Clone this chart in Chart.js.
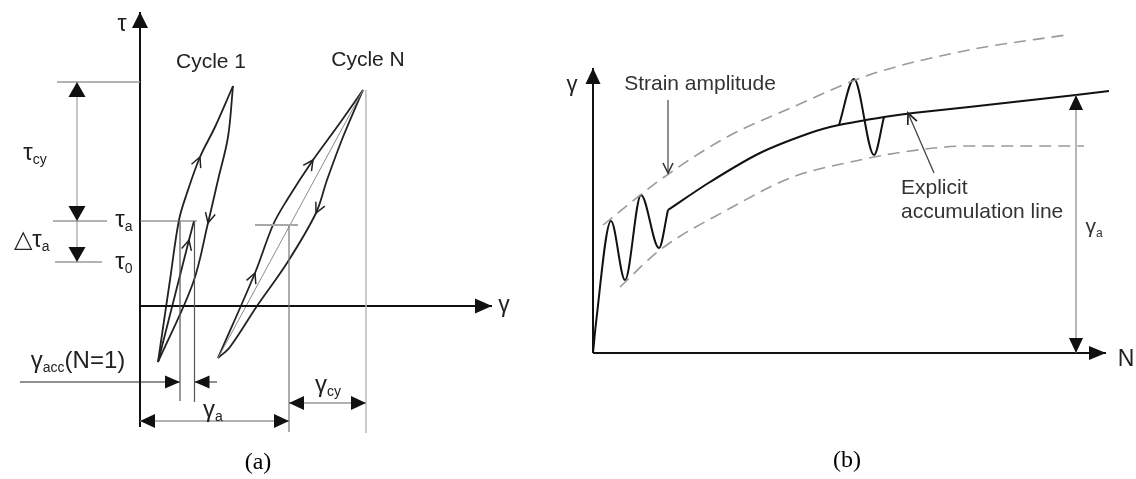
<!DOCTYPE html>
<html>
<head>
<meta charset="utf-8">
<script src="https://cdn.jsdelivr.net/npm/chart.js@4"></script>
<style>
  body { margin: 0; background: #fff; }
  #wrap { position: relative; width: 1136px; height: 479px; }
  canvas { position: absolute; top: 0; }
  #panelA { left: 0; }
  #panelB { left: 560px; }
</style>
</head>
<body>
<div id="wrap">
  <canvas id="panelA" width="560" height="479"></canvas>
  <canvas id="panelB" width="576" height="479"></canvas>
</div>
<script>
// ---------- panel (a): gamma (x) vs tau (y), arbitrary units ----------
const cycle1Load   = [[1.8,-5.6],[3.0,2.6],[3.9,8.6],[4.7,11.3],[6.0,14.9],[7.5,17.9],[9.3,22.0]];
const cycle1Unload = [[9.3,22.0],[8.8,16.9],[7.8,12.6],[6.8,8.3],[5.3,2.3],[1.8,-5.6]];
const cycle1Reload = [[1.8,-5.6],[4.9,6.6],[5.4,8.5]];
const cycleNLoad   = [[7.8,-5.2],[11.5,3.3],[13.3,8.1],[14.7,10.6],[17.3,14.6],[19.7,17.9],[22.3,21.6]];
const cycleNUnload = [[22.3,21.6],[20.3,16.9],[18.7,12.6],[17.6,9.3],[14.7,4.3],[11.7,0],[9.0,-4.1],[7.8,-5.2]];
const cycleNChord  = [[7.8,-5.2],[22.3,21.6]];

const tauLevels = { cy: 22.4, a: 8.5, zero: 4.4 };
const gammaMarks = { acc1: 4.0, acc2: 5.45, a: 14.9, peakN: 22.6 };

const labelsA = ["τ", "Cycle 1", "Cycle N", "τ{cy}", "τ{a}", "△τ{a}", "τ{0}", "γ", "γ{acc}(N=1)", "γ{a}", "γ{cy}", "(a)"];

// ---------- panel (b): N (x) vs gamma (y) ----------
const earlyCycles  = [[0,0],[0.3,3.0],[1.8,13.2],[3.2,7.3],[4.8,15.8],[6.6,10.5],[7.5,14.3]];
const accumLine    = [[7.5,14.3],[11.7,17.1],[16.7,20.0],[21.7,22.0],[24.6,22.8],[29.1,23.6],[32.0,24.0],[37.6,24.6],[48.3,25.8],[51.6,26.2]];
const laterCycle   = [[24.6,22.8],[26.1,27.4],[28.1,19.8],[29.1,23.6]];
const upperAmp     = [[1.0,12.8],[6.7,17.3],[13.4,21.6],[20.0,24.6],[27.6,27.8],[37.6,30.3],[47.3,31.8]];
const lowerAmp     = [[2.7,6.6],[6.7,10.3],[13.4,14.3],[20.0,17.6],[26.7,19.3],[31.0,20.1],[37.6,20.7],[49.1,20.7]];
const gammaAEnd    = 48.3;

const labelsB = ["γ", "Strain amplitude", "Explicit", "accumulation line", "γ{a}", "N", "(b)"];

const SANS = "'Liberation Sans', Arial, sans-serif";
const SERIF = "'Liberation Serif', 'Times New Roman', serif";

function line(pts, color, width, extra) {
  return Object.assign({
    data: pts.map(p => ({ x: p[0], y: p[1] })),
    showLine: true, borderColor: color, backgroundColor: color,
    borderWidth: width, pointRadius: 0, pointHoverRadius: 0, tension: 0, fill: false
  }, extra || {});
}

function drawHead(ctx, tip, from, len, half, filled) {
  const a = Math.atan2(tip.y - from.y, tip.x - from.x);
  ctx.save();
  ctx.translate(tip.x, tip.y);
  ctx.rotate(a);
  ctx.beginPath();
  if (filled) {
    ctx.moveTo(0, 0); ctx.lineTo(-len, -half); ctx.lineTo(-len, half); ctx.closePath(); ctx.fill();
  } else {
    ctx.moveTo(-len, -half); ctx.lineTo(0, 0); ctx.lineTo(-len, half); ctx.stroke();
  }
  ctx.restore();
}

// arrow heads at dataset ends and along curves
const arrowPlugin = {
  id: 'arrows',
  afterDatasetsDraw(chart) {
    const ctx = chart.ctx;
    chart.data.datasets.forEach((ds, i) => {
      const h = ds.head;
      if (!h) return;
      const pts = chart.getDatasetMeta(i).data;
      const n = pts.length;
      ctx.save();
      ctx.fillStyle = h.color || '#111';
      ctx.strokeStyle = h.color || '#111';
      ctx.lineWidth = h.lw || 1.5;
      if (h.end) drawHead(ctx, pts[n - 1], pts[n - 2], h.len, h.half, h.fill);
      if (h.start) drawHead(ctx, pts[0], pts[1], h.len, h.half, h.fill);
      (h.mid || []).forEach(j => {
        const back = pts[j - 1], fwd = pts[j + 1];
        const tip = pts[j];
        drawHead(ctx, tip, { x: tip.x - (fwd.x - back.x), y: tip.y - (fwd.y - back.y) }, h.len, h.half, h.fill);
      });
      ctx.restore();
    });
  }
};

// text with {subscript} parts, anchored in data units
function drawRich(ctx, str, x, y, size, align, family, color) {
  const parts = str.split(/\{([^}]*)\}/);
  const subSize = Math.round(size * 0.58);
  let w = 0;
  parts.forEach((p, k) => {
    ctx.font = (k % 2 ? subSize : size) + 'px ' + family;
    w += ctx.measureText(p).width;
  });
  let cx = align === 'left' ? x : align === 'right' ? x - w : x - w / 2;
  ctx.fillStyle = color;
  ctx.textBaseline = 'middle';
  ctx.textAlign = 'left';
  parts.forEach((p, k) => {
    ctx.font = (k % 2 ? subSize : size) + 'px ' + family;
    ctx.fillText(p, cx, k % 2 ? y + size * 0.3 : y);
    cx += ctx.measureText(p).width;
  });
}

const textPlugin = {
  id: 'texts',
  afterDraw(chart, args, opts) {
    const ctx = chart.ctx;
    const sx = chart.scales.x, sy = chart.scales.y;
    ctx.save();
    (opts.items || []).forEach(it => {
      drawRich(ctx, it.t, sx.getPixelForValue(it.x), sy.getPixelForValue(it.y),
        it.size || 21, it.align || 'center', it.family || SANS, it.color || '#222');
    });
    ctx.restore();
  }
};

function baseOptions(xr, yr, items) {
  return {
    animation: false, responsive: false, events: [],
    layout: { padding: 0 },
    plugins: { legend: { display: false }, tooltip: { enabled: false }, texts: { items: items } },
    scales: {
      x: { type: 'linear', min: xr[0], max: xr[1], display: false },
      y: { type: 'linear', min: yr[0], max: yr[1], display: false }
    }
  };
}

// ---------------- panel (a) ----------------
const T = tauLevels, G = gammaMarks;
const dimHead = { end: true, start: true, fill: true, len: 15, half: 7, color: '#111' };
const chevron = { fill: false, len: 10, half: 5, lw: 1.5, color: '#222' };

const dsA = [
  // reference lines
  line([[-8.3, T.cy], [0, T.cy]], '#9a9a9a', 1.5),
  line([[-8.7, T.a], [-3.3, T.a]], '#9a9a9a', 1.5),
  line([[-8.5, T.zero], [-3.8, T.zero]], '#9a9a9a', 1.5),
  line([[0, T.a], [5.7, T.a]], '#666', 1.2),
  line([[11.5, 8.1], [15.8, 8.1]], '#a8a8a8', 2),
  line([[G.acc1, T.a], [G.acc1, -9.5]], '#555', 1.2),
  line([[G.acc2, T.a], [G.acc2, -9.6]], '#555', 1.2),
  line([[G.a, 8.1], [G.a, -12.6]], '#777', 1.2),
  line([[G.peakN, 21.6], [G.peakN, -12.7]], '#bbb', 1.5),
  // dimension arrows
  line([[-6.3, T.cy], [-6.3, T.a]], '#aaa', 1.3, { head: Object.assign({}, dimHead, { half: 8.5 }) }),
  line([[-6.3, T.a], [-6.3, T.zero]], '#aaa', 1.3, { head: { end: true, fill: true, len: 15, half: 8.5, color: '#111' } }),
  line([[-12.0, -7.6], [G.acc1, -7.6]], '#222', 1, { head: { end: true, fill: true, len: 15, half: 6.5, color: '#111' } }),
  line([[7.7, -7.6], [G.acc2, -7.6]], '#222', 1, { head: { end: true, fill: true, len: 15, half: 6.5, color: '#111' } }),
  line([[0, -11.5], [G.a, -11.5]], '#999', 1.3, { head: dimHead }),
  line([[G.a, -9.7], [G.peakN, -9.7]], '#999', 1.3, { head: dimHead }),
  // axes
  line([[0, -12.1], [0, 29.4]], '#111', 2, { head: { end: true, fill: true, len: 16, half: 8, color: '#111' } }),
  line([[0, 0], [35.2, 0]], '#111', 2, { head: { end: true, fill: true, len: 17, half: 7.5, color: '#111' } }),
  // hysteresis loops
  line(cycleNChord, '#8a8a8a', 1),
  line(cycle1Load, '#222', 1.8, { tension: 0.35, head: Object.assign({ mid: [4] }, chevron) }),
  line(cycle1Unload, '#222', 1.8, { tension: 0.35, head: Object.assign({ mid: [3] }, chevron) }),
  line(cycle1Reload, '#222', 1.8, { head: Object.assign({ mid: [1] }, chevron) }),
  line(cycleNLoad, '#222', 1.8, { tension: 0.35, head: Object.assign({ mid: [1, 4] }, chevron) }),
  line(cycleNUnload, '#222', 1.8, { tension: 0.35, head: Object.assign({ mid: [3] }, chevron) })
];

const textA = [
  { t: labelsA[0], x: -1.8, y: 28.1, size: 23 },
  { t: labelsA[1], x: 7.1, y: 24.4, size: 21 },
  { t: labelsA[2], x: 22.8, y: 24.6, size: 21 },
  { t: labelsA[3], x: -10.5, y: 15.3, size: 24 },
  { t: labelsA[4], x: -1.6, y: 8.6, size: 24 },
  { t: labelsA[5], x: -10.8, y: 6.6, size: 24 },
  { t: labelsA[6], x: -1.6, y: 4.4, size: 24 },
  { t: labelsA[7], x: 36.4, y: 0, size: 23 },
  { t: labelsA[8], x: -6.2, y: -5.5, size: 24 },
  { t: labelsA[9], x: 7.3, y: -10.4, size: 24 },
  { t: labelsA[10], x: 18.8, y: -7.9, size: 24 },
  { t: labelsA[11], x: 11.8, y: -15.7, size: 24, family: SERIF, color: '#000' }
];

new Chart(document.getElementById('panelA'), {
  type: 'scatter',
  data: { datasets: dsA },
  options: baseOptions([-14, 42], [-17.3, 30.6], textA),
  plugins: [arrowPlugin, textPlugin]
});

// ---------------- panel (b) ----------------
const dsB = [
  line(upperAmp, '#9a9a9a', 1.6, { borderDash: [12, 7], cubicInterpolationMode: 'monotone' }),
  line(lowerAmp, '#9a9a9a', 1.6, { borderDash: [12, 7], cubicInterpolationMode: 'monotone' }),
  line([[gammaAEnd, 25.8], [gammaAEnd, 0]], '#888', 1.2, { head: { end: true, start: true, fill: true, len: 15, half: 7, color: '#111' } }),
  line([[0, 0], [0, 28.5]], '#111', 2, { head: { end: true, fill: true, len: 16, half: 7.5, color: '#111' } }),
  line([[0, 0], [51.3, 0]], '#111', 2, { head: { end: true, fill: true, len: 17, half: 7, color: '#111' } }),
  line(earlyCycles, '#111', 2, { cubicInterpolationMode: 'monotone' }),
  line(accumLine, '#111', 2, { tension: 0.3 }),
  line(laterCycle, '#111', 2, { cubicInterpolationMode: 'monotone' }),
  line([[7.5, 25.3], [7.5, 18.0]], '#555', 1.3, { head: { end: true, fill: false, len: 10, half: 5, lw: 1.6, color: '#333' } }),
  line([[34.1, 18.0], [31.5, 24.0]], '#444', 1.3, { head: { end: true, fill: false, len: 11, half: 5, lw: 1.7, color: '#222' } })
];

const textB = [
  { t: labelsB[0], x: -2.1, y: 26.8, size: 22 },
  { t: labelsB[1], x: 10.7, y: 26.9, size: 21, color: '#333' },
  { t: labelsB[2], x: 30.8, y: 16.5, size: 21, align: 'left', color: '#333' },
  { t: labelsB[3], x: 30.8, y: 14.1, size: 21, align: 'left', color: '#333' },
  { t: labelsB[4], x: 50.1, y: 12.6, size: 21, color: '#333' },
  { t: labelsB[5], x: 53.3, y: -0.7, size: 23 },
  { t: labelsB[6], x: 25.4, y: -10.8, size: 24, family: SERIF, color: '#000' }
];

new Chart(document.getElementById('panelB'), {
  type: 'scatter',
  data: { datasets: dsB },
  options: baseOptions([-3.3, 54.3], [-12.6, 35.3], textB),
  plugins: [arrowPlugin, textPlugin]
});
</script>
</body>
</html>
